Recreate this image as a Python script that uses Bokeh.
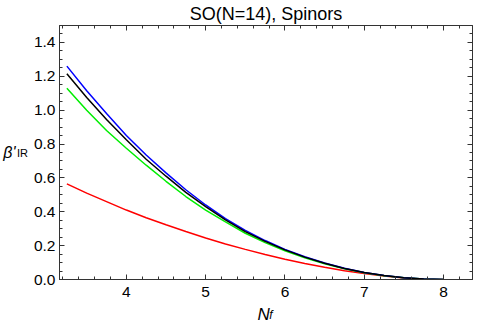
from bokeh.plotting import figure
from bokeh.models import (Range1d, LinearAxis, SingleIntervalTicker, FixedTicker,
                          NumeralTickFormatter, CustomJSTickFormatter)
from bokeh.embed import file_html
from bokeh.resources import INLINE

# ---- data ----
nf = [3.25, 3.5, 3.75, 4.0, 4.25, 4.5, 4.75, 5.0, 5.25, 5.5, 5.75,
      6.0, 6.25, 6.5, 6.75, 7.0, 7.25, 7.5, 7.75, 8.0]
beta_blue = [1.26, 1.115, 0.98, 0.85, 0.735, 0.63, 0.53, 0.44, 0.36, 0.29, 0.23,
             0.178, 0.134, 0.097, 0.066, 0.041, 0.023, 0.010, 0.003, 0.0]
beta_black = [1.215, 1.075, 0.945, 0.825, 0.71, 0.61, 0.515, 0.43, 0.352, 0.283, 0.225,
              0.175, 0.132, 0.096, 0.065, 0.041, 0.023, 0.010, 0.003, 0.0]
beta_green = [1.13, 1.0, 0.88, 0.775, 0.675, 0.58, 0.49, 0.41, 0.34, 0.273, 0.218,
              0.17, 0.128, 0.093, 0.063, 0.040, 0.022, 0.010, 0.003, 0.0]
beta_red = [0.565, 0.51, 0.46, 0.41, 0.365, 0.323, 0.283, 0.245, 0.21, 0.178, 0.148,
            0.12, 0.095, 0.072, 0.052, 0.035, 0.020, 0.009, 0.002, 0.0]

title_text = "SO(N=14), Spinors"
x_min, x_max = 3.157, 8.365
y_min, y_max = 0.0, 1.5

FONT = "Liberation Sans"
FRAME = "#333333"
NB = "\u00a0"

p = figure(width=478, height=326, output_backend="svg", toolbar_location=None,
           x_range=Range1d(x_min, x_max), y_range=Range1d(y_min, y_max),
           min_border_left=58, min_border_right=6, min_border_top=25, min_border_bottom=46,
           title=title_text)
p.background_fill_color = "white"
p.border_fill_color = "white"
p.outline_line_color = FRAME
p.outline_line_width = 1
p.xgrid.visible = False
p.ygrid.visible = False

p.title.align = "center"
p.title.text_font = FONT
p.title.text_font_size = "18px"
p.title.text_font_style = "normal"
p.title.text_color = "black"
p.title.standoff = 3

blank = CustomJSTickFormatter(code="return ''")

def style(ax, show_labels):
    ax.axis_line_color = FRAME
    ax.major_tick_in = 5
    ax.major_tick_out = 0
    ax.minor_tick_in = 3
    ax.minor_tick_out = 0
    ax.major_tick_line_color = FRAME
    ax.minor_tick_line_color = FRAME
    ax.major_label_text_font = FONT
    ax.major_label_text_font_size = "15.5px"
    ax.major_label_text_color = "black"
    if not show_labels:
        ax.formatter = blank
        ax.major_label_standoff = 0

def label_only(ax, text, size, style_, baseline, standoff):
    ax.ticker = FixedTicker(ticks=[])
    ax.axis_line_color = None
    ax.major_tick_line_color = None
    ax.minor_tick_line_color = None
    ax.major_label_standoff = 0
    ax.formatter = blank
    ax.axis_label = text
    ax.axis_label_text_font = FONT
    ax.axis_label_text_font_size = size
    ax.axis_label_text_font_style = style_
    ax.axis_label_text_color = "black"
    ax.axis_label_text_baseline = baseline
    ax.axis_label_standoff = standoff

# bottom axis with tick labels, carries "N"
xb = p.xaxis[0]
xb.ticker = SingleIntervalTicker(interval=1, num_minor_ticks=5)
style(xb, True)
xb.major_label_standoff = 7
xb.axis_label = "N" + NB
xb.axis_label_text_font = FONT
xb.axis_label_text_font_size = "17px"
xb.axis_label_text_font_style = "italic"
xb.axis_label_text_color = "black"
xb.axis_label_standoff = 5

# subscript f
xf = LinearAxis()
label_only(xf, NB * 3 + "f", "12px", "italic", "top", -19)
p.add_layout(xf, "below")

# left axis with tick labels, carries subscript "IR"
yl = p.yaxis[0]
yl.ticker = SingleIntervalTicker(interval=0.2, num_minor_ticks=4)
yl.formatter = NumeralTickFormatter(format="0.0")
style(yl, True)
yl.major_label_standoff = 4
yl.axis_label = "IR"
yl.axis_label_orientation = "horizontal"
yl.axis_label_text_font = FONT
yl.axis_label_text_font_size = "11px"
yl.axis_label_text_font_style = "normal"
yl.axis_label_text_color = "black"
yl.axis_label_text_baseline = "top"
yl.axis_label_standoff = 3

# beta'
yb = LinearAxis()
label_only(yb, "β'", "16px", "italic", "middle", -2)
yb.axis_label_orientation = "horizontal"
p.add_layout(yb, "left")

# frame ticks on top and right
xt = LinearAxis(ticker=SingleIntervalTicker(interval=1, num_minor_ticks=5))
style(xt, False)
p.add_layout(xt, "above")
yr = LinearAxis(ticker=SingleIntervalTicker(interval=0.2, num_minor_ticks=4))
style(yr, False)
p.add_layout(yr, "right")

p.line(nf, beta_red, line_color="#ff0000", line_width=1.5)
p.line(nf, beta_green, line_color="#00ee00", line_width=1.5)
p.line(nf, beta_blue, line_color="#0000ff", line_width=1.5)
p.line(nf, beta_black, line_color="#000000", line_width=1.5)

open("out.html", "w").write(file_html(p, INLINE))
